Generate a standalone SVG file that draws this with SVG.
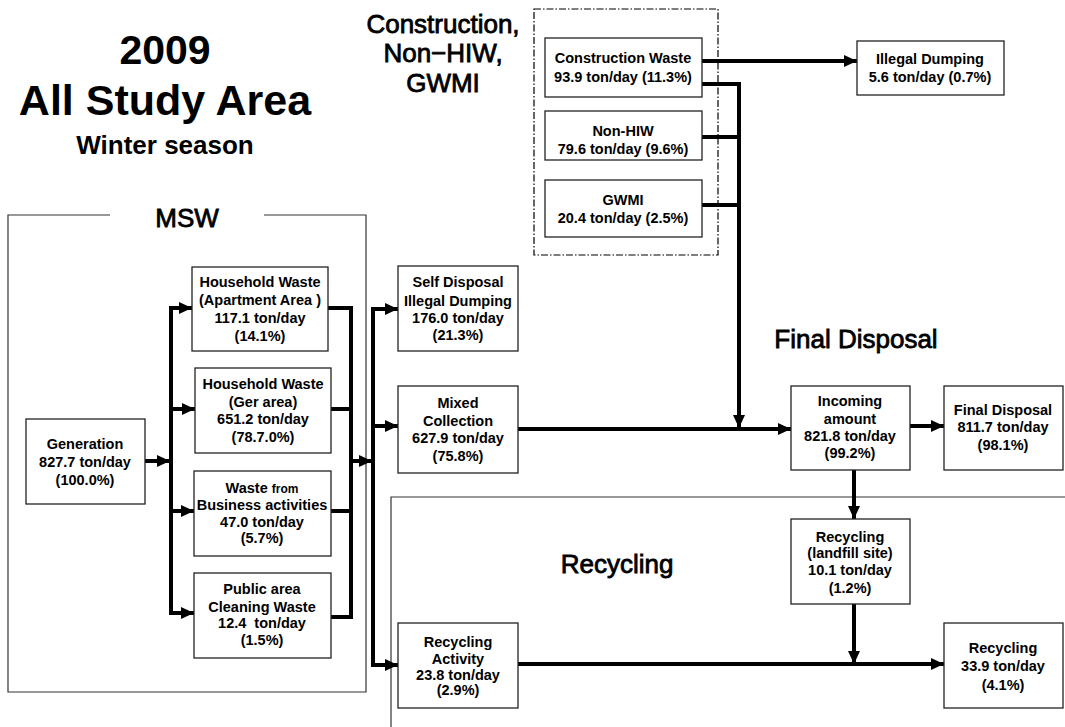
<svg xmlns="http://www.w3.org/2000/svg" width="1065" height="727" viewBox="0 0 1065 727">
<defs>
<style>
.box{fill:#fff;stroke:#222;stroke-width:1.3}
.t{font-family:"Liberation Sans",Arial,sans-serif;font-weight:bold;font-size:14.5px;text-anchor:middle;fill:#000}
.h{font-family:"Liberation Sans",Arial,sans-serif;font-size:26px;text-anchor:middle;fill:#000;stroke:#000;stroke-width:0.8}
.ttl{font-family:"Liberation Sans",Arial,sans-serif;font-weight:bold;text-anchor:middle;fill:#000}
.c{fill:none;stroke:#000;stroke-width:4;stroke-linecap:square}
.ca{fill:none;stroke:#000;stroke-width:4;marker-end:url(#ah)}
.frame{fill:none;stroke:#333;stroke-width:1.2}
</style>
<marker id="ah" markerUnits="userSpaceOnUse" markerWidth="14" markerHeight="14" refX="13" refY="7" orient="auto">
<path d="M0,1 L13,7 L0,13 Z" fill="#000"/>
</marker>
</defs>
<rect width="1065" height="727" fill="#fff"/>

<g id="titles">
<text class="ttl" x="165" y="64" font-size="41">2009</text>
<text class="ttl" x="165" y="115" font-size="43">All Study Area</text>
<text class="ttl" x="165" y="154" font-size="26">Winter season</text>
<text class="h" x="443" y="33" font-size="24">Construction,</text>
<text class="h" x="443" y="62" font-size="24">Non−HIW,</text>
<text class="h" x="443" y="92" font-size="24">GWMI</text>
<text class="h" x="187" y="227">MSW</text>
<text class="h" x="856" y="348">Final Disposal</text>
<text class="h" x="617" y="573">Recycling</text>
</g>

<g id="frames">
<path class="frame" d="M110,215 H8 V692 H366 V215 H264"/>
<path class="frame" d="M1066,497 H391 V727"/>
<rect x="534" y="9" width="184" height="246" fill="none" stroke="#000" stroke-width="1.2" stroke-dasharray="7,2,1.5,2"/>
</g>

<g id="connectors">
<line class="ca" x1="145" y1="461" x2="170" y2="461"/>
<line class="c" x1="171" y1="308" x2="171" y2="613"/>
<line class="ca" x1="169" y1="308" x2="192" y2="308"/>
<line class="ca" x1="169" y1="409" x2="195" y2="409"/>
<line class="ca" x1="169" y1="511" x2="194" y2="511"/>
<line class="ca" x1="169" y1="613" x2="194" y2="613"/>
<path class="c" d="M328,308 H351 V617 H331"/>
<line class="c" x1="331" y1="409" x2="351" y2="409"/>
<line class="c" x1="331" y1="511" x2="351" y2="511"/>
<line class="ca" x1="351" y1="461" x2="372" y2="461"/>
<line class="c" x1="373" y1="309" x2="373" y2="665"/>
<line class="ca" x1="371" y1="309" x2="398" y2="309"/>
<line class="ca" x1="371" y1="426" x2="398" y2="426"/>
<line class="ca" x1="371" y1="665" x2="398" y2="665"/>
<line class="ca" x1="518" y1="429" x2="791" y2="429"/>
<line class="ca" x1="702" y1="61" x2="857" y2="61"/>
<path class="c" d="M702,84 H739"/>
<line class="c" x1="702" y1="137" x2="739" y2="137"/>
<line class="c" x1="702" y1="205" x2="739" y2="205"/>
<line class="ca" x1="739" y1="82" x2="739" y2="428"/>
<line class="ca" x1="910" y1="426" x2="944" y2="426"/>
<line class="ca" x1="854" y1="470" x2="854" y2="519"/>
<line class="ca" x1="854" y1="604" x2="854" y2="664"/>
<line class="ca" x1="518" y1="664" x2="944" y2="664"/>
</g>

<g id="generation">
<rect class="box" x="26" y="419" width="119" height="85"/>
<text class="t" x="85" y="449">Generation</text>
<text class="t" x="85" y="467">827.7 ton/day</text>
<text class="t" x="85" y="485">(100.0%)</text>
</g>

<g id="household-apartment">
<rect class="box" x="192" y="267" width="136" height="84"/>
<text class="t" x="260" y="287">Household Waste</text>
<text class="t" x="260" y="305">(Apartment Area )</text>
<text class="t" x="260" y="323">117.1 ton/day</text>
<text class="t" x="260" y="341">(14.1%)</text>
</g>

<g id="household-ger">
<rect class="box" x="195" y="368" width="136" height="85"/>
<text class="t" x="263" y="389">Household Waste</text>
<text class="t" x="263" y="407">(Ger area)</text>
<text class="t" x="263" y="424">651.2 ton/day</text>
<text class="t" x="263" y="442">(78.7.0%)</text>
</g>

<g id="business">
<rect class="box" x="194" y="471" width="137" height="85"/>
<text class="t" x="262" y="493">Waste <tspan font-size="12">from</tspan></text>
<text class="t" x="262" y="510" font-size="12.5">Business activities</text>
<text class="t" x="262" y="527">47.0 ton/day</text>
<text class="t" x="262" y="543">(5.7%)</text>
</g>

<g id="public-area">
<rect class="box" x="194" y="573" width="137" height="85"/>
<text class="t" x="262" y="594">Public area</text>
<text class="t" x="262" y="612">Cleaning Waste</text>
<text class="t" x="262" y="628" xml:space="preserve">12.4  ton/day</text>
<text class="t" x="262" y="645">(1.5%)</text>
</g>

<g id="self-disposal">
<rect class="box" x="398" y="266" width="120" height="85"/>
<text class="t" x="458" y="287">Self Disposal</text>
<text class="t" x="458" y="306">Illegal Dumping</text>
<text class="t" x="458" y="323">176.0 ton/day</text>
<text class="t" x="458" y="340">(21.3%)</text>
</g>

<g id="mixed-collection">
<rect class="box" x="398" y="386" width="120" height="87"/>
<text class="t" x="458" y="408">Mixed</text>
<text class="t" x="458" y="426">Collection</text>
<text class="t" x="458" y="443">627.9 ton/day</text>
<text class="t" x="458" y="461">(75.8%)</text>
</g>

<g id="recycling-activity">
<rect class="box" x="398" y="623" width="120" height="85"/>
<text class="t" x="458" y="647">Recycling</text>
<text class="t" x="458" y="664">Activity</text>
<text class="t" x="458" y="680">23.8 ton/day</text>
<text class="t" x="458" y="695">(2.9%)</text>
</g>

<g id="construction-waste">
<rect class="box" x="545" y="38" width="157" height="59"/>
<text class="t" x="623" y="63">Construction Waste</text>
<text class="t" x="623" y="82">93.9 ton/day (11.3%)</text>
</g>

<g id="non-hiw">
<rect class="box" x="545" y="111" width="157" height="49"/>
<text class="t" x="623" y="136">Non-HIW</text>
<text class="t" x="623" y="154">79.6 ton/day (9.6%)</text>
</g>

<g id="gwmi">
<rect class="box" x="545" y="180" width="157" height="57"/>
<text class="t" x="623" y="205">GWMI</text>
<text class="t" x="623" y="223">20.4 ton/day (2.5%)</text>
</g>

<g id="illegal-dumping">
<rect class="box" x="857" y="41" width="147" height="54"/>
<text class="t" x="930" y="64">Illegal Dumping</text>
<text class="t" x="930" y="82">5.6 ton/day (0.7%)</text>
</g>

<g id="incoming">
<rect class="box" x="791" y="386" width="119" height="84"/>
<text class="t" x="850" y="406">Incoming</text>
<text class="t" x="850" y="424">amount</text>
<text class="t" x="850" y="441">821.8 ton/day</text>
<text class="t" x="850" y="458">(99.2%)</text>
</g>

<g id="final-disposal">
<rect class="box" x="944" y="386" width="119" height="84"/>
<text class="t" x="1003" y="415">Final Disposal</text>
<text class="t" x="1003" y="432">811.7 ton/day</text>
<text class="t" x="1003" y="450">(98.1%)</text>
</g>

<g id="recycling-landfill">
<rect class="box" x="791" y="519" width="119" height="85"/>
<text class="t" x="850" y="542">Recycling</text>
<text class="t" x="850" y="558">(landfill site)</text>
<text class="t" x="850" y="575">10.1 ton/day</text>
<text class="t" x="850" y="593">(1.2%)</text>
</g>

<g id="recycling">
<rect class="box" x="944" y="623" width="119" height="85"/>
<text class="t" x="1003" y="653">Recycling</text>
<text class="t" x="1003" y="671">33.9 ton/day</text>
<text class="t" x="1003" y="690">(4.1%)</text>
</g>
</svg>
